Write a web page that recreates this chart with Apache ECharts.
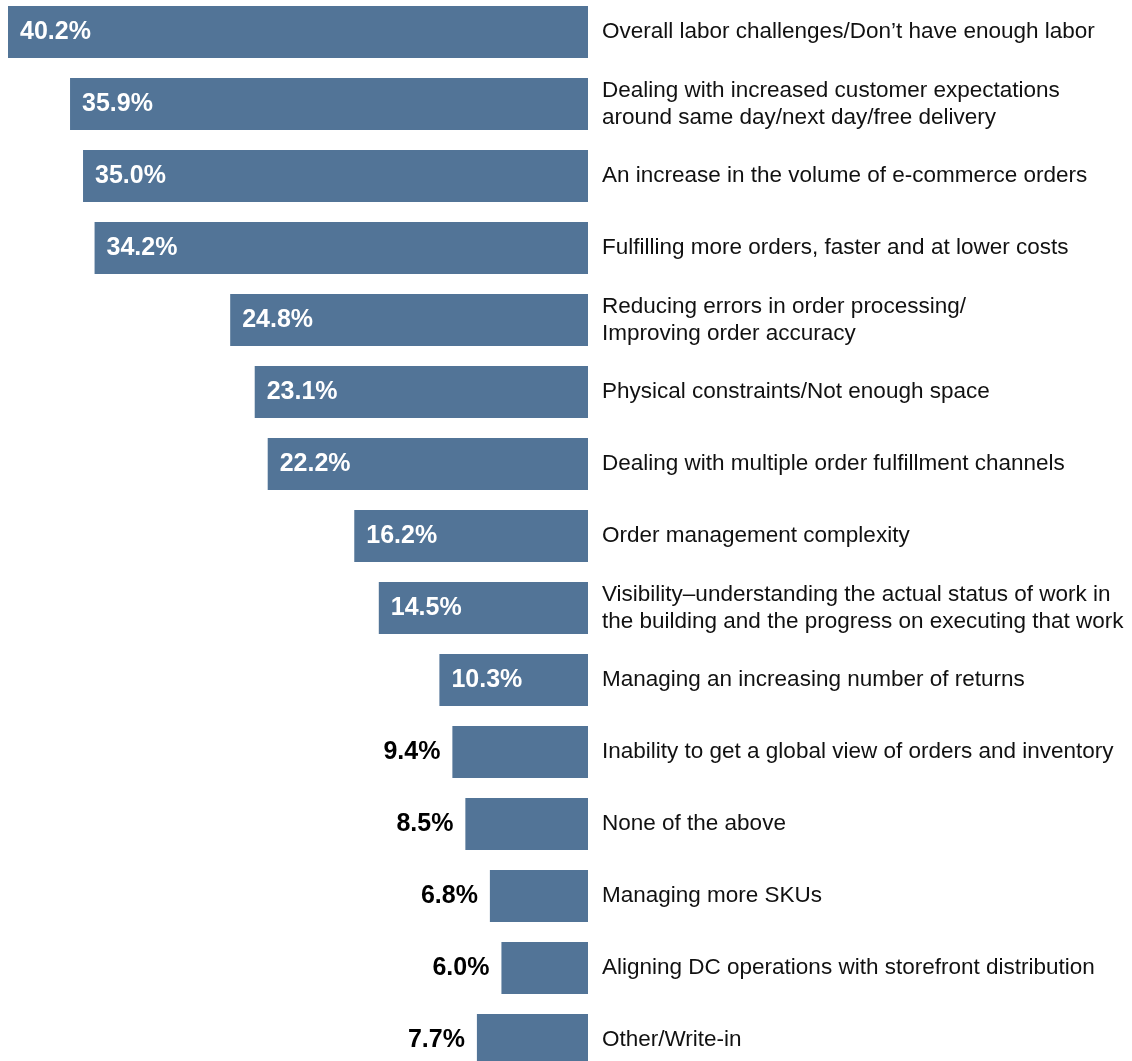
<!DOCTYPE html>
<html>
<head>
<meta charset="utf-8">
<script src="https://cdn.jsdelivr.net/npm/echarts@6/dist/echarts.min.js"></script>
<style>
html,body{margin:0;padding:0;background:#fff;overflow:hidden;width:1132px;height:1061px;}
#chart{position:absolute;left:0;top:-4px;width:1132px;height:1080px;}
</style>
</head>
<body>
<div id="chart"></div>
<script>
const categories = [
  "Overall labor challenges/Don\u2019t have enough labor",
  "Dealing with increased customer expectations\naround same day/next day/free delivery",
  "An increase in the volume of e-commerce orders",
  "Fulfilling more orders, faster and at lower costs",
  "Reducing errors in order processing/\nImproving order accuracy",
  "Physical constraints/Not enough space",
  "Dealing with multiple order fulfillment channels",
  "Order management complexity",
  "Visibility\u2013understanding the actual status of work in\nthe building and the progress on executing that work",
  "Managing an increasing number of returns",
  "Inability to get a global view of orders and inventory",
  "None of the above",
  "Managing more SKUs",
  "Aligning DC operations with storefront distribution",
  "Other/Write-in"
];
const values = [40.2, 35.9, 35.0, 34.2, 24.8, 23.1, 22.2, 16.2, 14.5, 10.3, 9.4, 8.5, 6.8, 6.0, 7.7];
const axisMax = 40.2;
const insideThreshold = 10;

const chart = echarts.init(document.getElementById('chart'), null, {renderer: 'canvas'});
const BAR = '#527497';
const FONT = '"Liberation Sans", Arial, Helvetica, sans-serif';

const data = values.map(v => {
  const inside = v >= insideThreshold;
  return {
    value: v,
    label: inside ? {
      position: 'insideLeft', distance: 12, color: '#ffffff'
    } : {
      position: 'left', distance: 12, color: '#000000'
    }
  };
});

chart.setOption({
  animation: false,
  grid: {left: 8, width: 580, top: 0, height: 1080, containLabel: false, outerBoundsMode: 'none'},
  xAxis: {
    type: 'value', inverse: true, min: 0, max: axisMax,
    show: false
  },
  yAxis: {
    type: 'category', data: categories, inverse: true, position: 'right',
    axisLine: {show: false}, axisTick: {show: false}, splitLine: {show: false},
    axisLabel: {
      margin: 14, align: 'left', color: '#111', fontFamily: FONT,
      fontSize: 22.5, lineHeight: 27, padding: [3, 0, 0, 0]
    }
  },
  series: [{
    type: 'bar', data: data, barWidth: 52,
    itemStyle: {color: BAR},
    label: {
      show: true, fontFamily: FONT, fontWeight: 'bold', fontSize: 25,
      padding: [2, 0, 0, 0],
      formatter: p => p.value.toFixed(1) + '%'
    }
  }]
});
</script>
</body>
</html>
